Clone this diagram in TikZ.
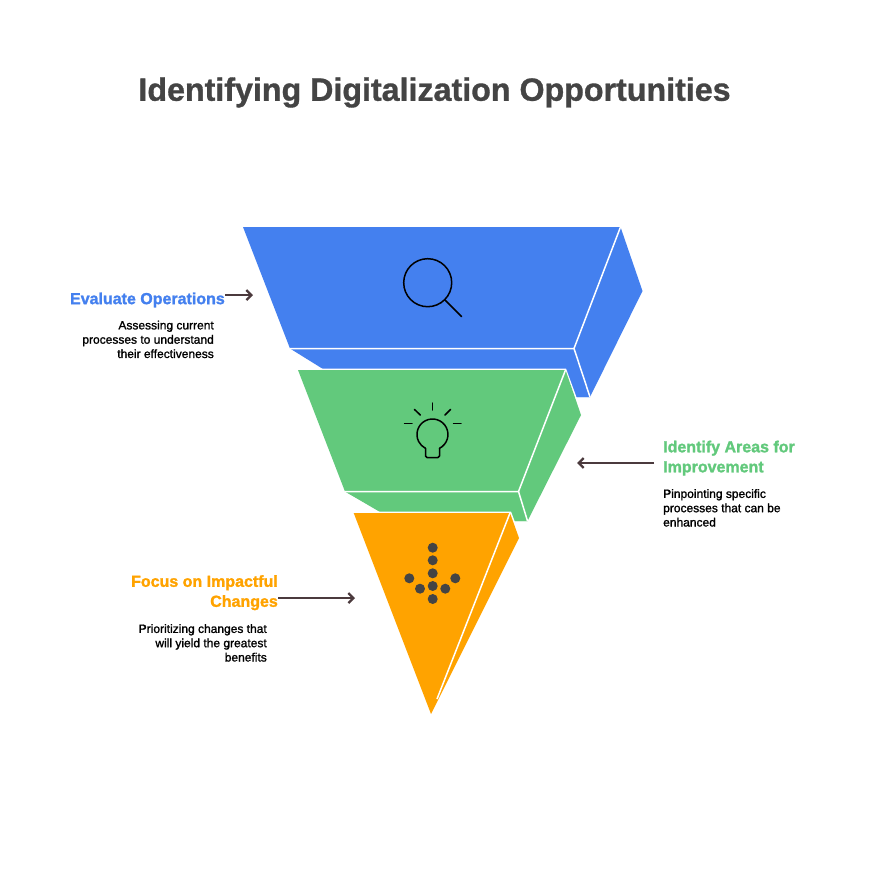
\documentclass[tikz,border=0pt]{standalone}
\usepackage{fontspec}
\setmainfont{Liberation Sans}
\newfontfamily\descfont[FakeBold=1.3]{Liberation Sans}
\newfontfamily\headfont[BoldFeatures={FakeBold=1.5}]{Liberation Sans}
\newfontfamily\titlefont[BoldFeatures={FakeBold=1}]{Liberation Sans}
\usetikzlibrary{arrows.meta}
\definecolor{cblue}{HTML}{4480EF}
\definecolor{cgreen}{HTML}{62C97C}
\definecolor{corange}{HTML}{FFA300}
\definecolor{cdark}{HTML}{444444}
\definecolor{carrow}{HTML}{4B3A3D}
\tikzset{
  titletext/.style={inner sep=0pt,text=cdark,font=\fontsize{32.2}{36}\titlefont\bfseries},
  headtext/.style={inner sep=0pt,font=\fontsize{16}{20}\headfont\bfseries},
  desctext/.style={inner sep=0pt,text=black,font=\fontsize{12}{14.3}\descfont},
  fold/.style={draw=white,line width=1.5pt},
  icon/.style={draw=black,line width=1.5pt,line cap=round,line join=round},
  pointer/.style={draw=carrow,line width=2.3pt,-{Straight Barb[length=5pt,width=10pt,line width=2.3pt]}},
  dot/.style={fill=cdark,draw=none}
}
\begin{document}
\begin{tikzpicture}[x=1pt,y=-1pt]
\useasboundingbox (0,0) rectangle (870,870);
\fill[white] (0,0) rectangle (870,870);
\node[titletext,anchor=center] (title) at (434.5,92.5) {Identifying Digitalization Opportunities};
% blue
\fill[cblue] (243,227) -- (620.5,227) -- (642.5,291) -- (590,397) -- (566,397) -- (323,369) -- (290,348.5) -- cycle;
\fill[cblue] (323,368) -- (566,368) -- (566,397) -- (590,397) -- (574,348) -- (290,348) -- cycle;
\draw[fold] (290,348.5) -- (574,348.5) -- (620.5,227);
\draw[fold] (574,348.5) -- (590,397);
% green
\fill[white] (296,368.5) -- (566,368.5) -- (583,415) -- (560,430) -- (320,430) -- cycle;
\fill[cgreen] (298,370) -- (565.5,370) -- (581,415) -- (527.5,521) -- (513,521) -- (380,512) -- (345,491.5) -- cycle;
\fill[cgreen] (380,511) -- (513,511) -- (513,521) -- (527.5,521) -- (518.5,491.5) -- (345,491.5) -- cycle;
\draw[fold] (345,491.5) -- (518.5,491.5) -- (565.5,370);
\draw[fold] (518.5,491.5) -- (527.5,521);
% orange
\fill[white] (351.5,511.5) -- (511,511.5) -- (521,538) -- (500,560) -- (370,560) -- cycle;
\fill[corange] (353.7,513) -- (510,513) -- (519,538) -- (431,714) -- cycle;
\draw[fold] (510,513) -- (437,699);
% magnifier
\draw[icon] (427.7,282.7) circle (24);
\draw[icon] (445,300) -- (461.5,316.5);
% bulb
\draw[icon] (439.5,448.3) arc (63:-243:15.5);
\draw[icon,rounded corners=1.5pt] (425.5,448.3) -- (425.5,457.5) -- (439.5,457.5) -- (439.5,448.3);
\draw[icon] (432.5,403) -- (432.5,410);
\draw[icon] (404.5,423.3) -- (412,423.3);
\draw[icon] (453.5,423.3) -- (461,423.3);
\draw[icon] (414.5,409.5) -- (420.3,415);
\draw[icon] (450.5,409.5) -- (445,415);
% dots
\foreach \px/\py in {432.7/547.7,432.7/560.3,432.7/573.3,432.7/586,432.7/599,409.3/578.3,420/588.7,445.3/588.7,455.3/578.3}
  \fill[dot] (\px,\py) circle (5);
% labels
\node[headtext,text=cblue,anchor=east] (evalhead) at (225,300) {Evaluate Operations};
\node[desctext,align=right,anchor=north east] (evaldesc) at (214,320.5) {Assessing current\\processes to understand\\their effectiveness};
\node[headtext,text=cgreen,align=left,anchor=north west] (idhead) at (663,440.5) {Identify Areas for\\Improvement};
\node[desctext,align=left,anchor=north west] (iddesc) at (663,489) {Pinpointing specific\\processes that can be\\enhanced};
\node[headtext,text=corange,align=right,anchor=north east] (focushead) at (278,575) {Focus on Impactful\\Changes};
\node[desctext,align=right,anchor=north east] (focusdesc) at (267,624) {Prioritizing changes that\\will yield the greatest\\benefits};
% arrows
\coordinate (evalstart) at (225,295);
\coordinate (evalend) at (253,295);
\coordinate (idstart) at (654,463);
\coordinate (idend) at (577,463);
\coordinate (focusstart) at (278,598);
\coordinate (focusend) at (355,598);
\draw[pointer] (evalstart) -- (evalend);
\draw[pointer] (idstart) -- (idend);
\draw[pointer] (focusstart) -- (focusend);
\end{tikzpicture}
\end{document}
